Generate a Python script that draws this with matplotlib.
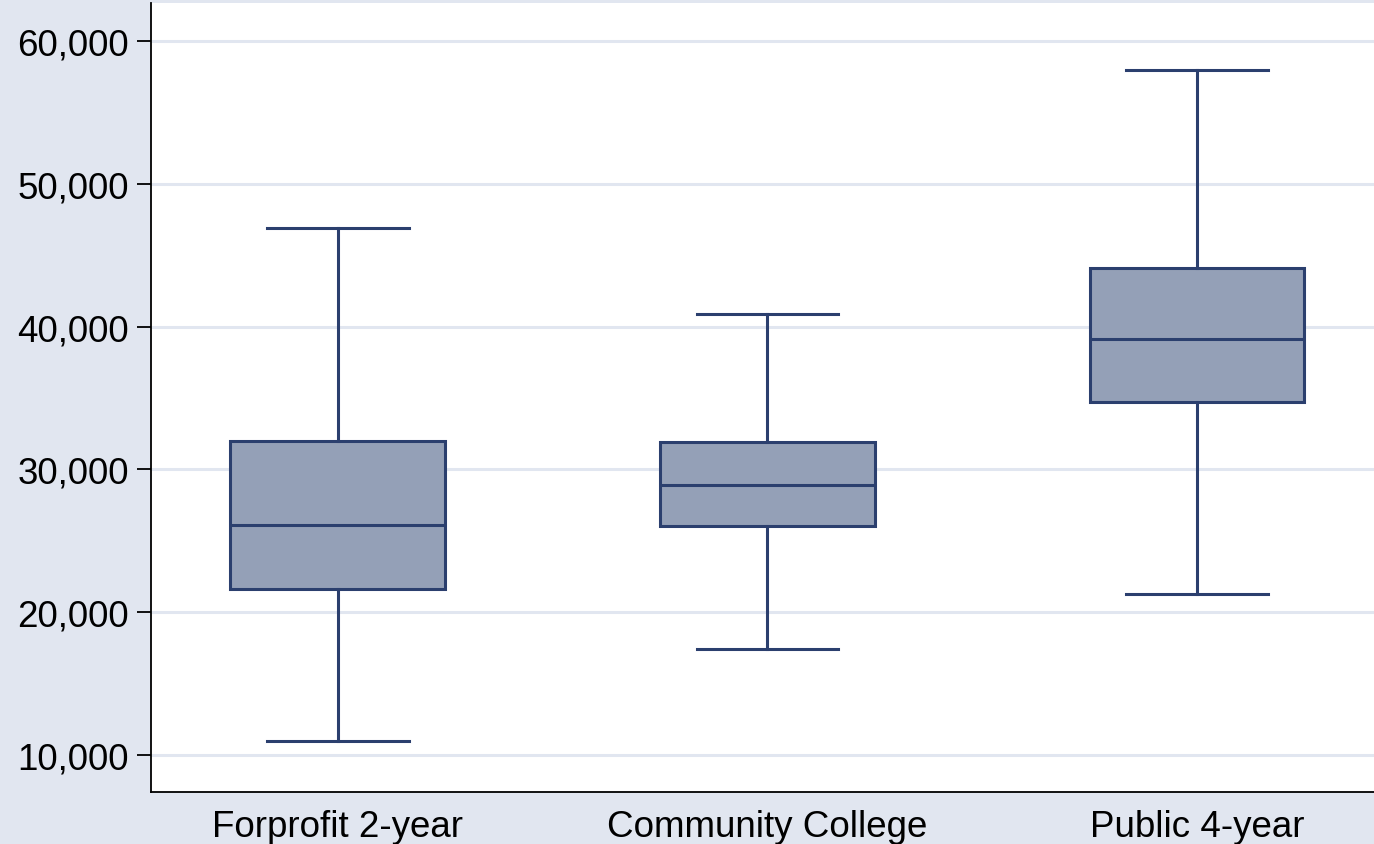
import matplotlib.pyplot as plt
from matplotlib.ticker import FuncFormatter

# Salary distributions by sector
categories = ["Forprofit 2-year", "Community College", "Public 4-year"]
whisker_low = [11000, 17400, 21300]
q1 = [21600, 26000, 34700]
median = [26100, 28900, 39100]
q3 = [32000, 31900, 44100]
whisker_high = [46900, 40900, 58000]
y_ticks = [10000, 20000, 30000, 40000, 50000, 60000]

bg = "#e1e6f0"
edge = "#2b3f6e"
fill = "#94a0b7"

plt.rcParams["font.family"] = ["Liberation Sans", "DejaVu Sans"]

fig = plt.figure(figsize=(13.74, 8.45), dpi=100, facecolor=bg)
ax = fig.add_axes([151 / 1374, 52 / 845, 1 - 151 / 1374, 789 / 845])
ax.set_facecolor("white")

stats = []
for i, name in enumerate(categories):
    stats.append({
        "label": name,
        "whislo": whisker_low[i],
        "q1": q1[i],
        "med": median[i],
        "q3": q3[i],
        "whishi": whisker_high[i],
        "fliers": [],
    })

lw = 2.2
ax.bxp(stats, positions=[1, 2, 3], widths=0.5, patch_artist=True,
       showfliers=False,
       boxprops=dict(facecolor=fill, edgecolor=edge, linewidth=lw),
       medianprops=dict(color=edge, linewidth=lw),
       whiskerprops=dict(color=edge, linewidth=lw),
       capprops=dict(color=edge, linewidth=lw),
       capwidths=0.33, zorder=3)

ax.set_xlim(0.565, 3.412)
ax.set_ylim(7400, 62660)
ax.set_yticks(y_ticks)
ax.yaxis.set_major_formatter(FuncFormatter(lambda v, p: f"{int(v):,}"))
ax.yaxis.grid(True, color=bg, linewidth=2.2, zorder=0)
ax.set_axisbelow(True)

for s in ["top", "right"]:
    ax.spines[s].set_visible(False)
for s in ["left", "bottom"]:
    ax.spines[s].set_color("black")
    ax.spines[s].set_linewidth(1.3)

ax.tick_params(axis="y", length=10, width=1.3, labelsize=26.5, pad=6)
ax.tick_params(axis="x", length=0, labelsize=26.5, pad=12)

fig.savefig("out.png", dpi=100, facecolor=bg)
